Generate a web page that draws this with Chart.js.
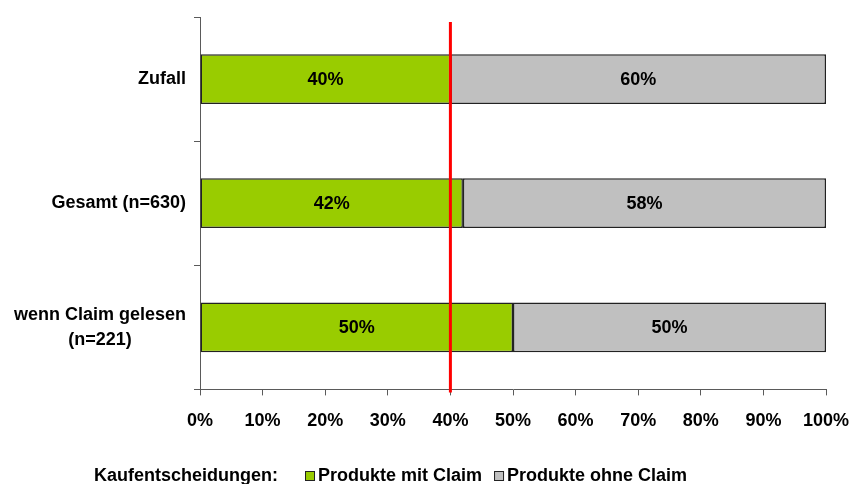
<!DOCTYPE html>
<html>
<head>
<meta charset="utf-8">
<script src="https://cdn.jsdelivr.net/npm/chart.js@4.4.0/dist/chart.umd.min.js"></script>
<style>
  html, body { margin: 0; padding: 0; background: #ffffff; }
  #wrap { width: 854px; height: 484px; }
</style>
</head>
<body>
<div id="wrap"><canvas id="chart" width="854" height="484"></canvas></div>
<script>
// Categories (multi-line labels as arrays)
const categories = [['Zufall'], ['Gesamt (n=630)'], ['wenn Claim gelesen', '(n=221)']];
// Share of purchase decisions, in percent
const seriesNames = ['Produkte mit Claim', 'Produkte ohne Claim'];
const mitClaim = [40, 42, 50];
const ohneClaim = [60, 58, 50];
// Axis ticks (percent)
const xTicks = [0, 10, 20, 30, 40, 50, 60, 70, 80, 90, 100];
// Chance level marker
const referenceLine = 40;
const legendTitle = 'Kaufentscheidungen:';

const FONT = '"Liberation Sans", Arial, sans-serif';
const COLORS = ['#99CC00', '#C0C0C0'];
const EDGE = '#222222';
const AXIS = '#5a5a5a';

// Category labels left of the y axis: right-aligned block, lines centred within it
const categoryLabels = {
  id: 'categoryLabels',
  afterDraw(chart) {
    const { ctx } = chart;
    const y = chart.scales.y;
    const rightEdge = chart.chartArea.left - 14;
    const lineH = 25;
    ctx.save();
    ctx.font = 'bold 18px ' + FONT;
    ctx.fillStyle = '#000';
    ctx.textAlign = 'center';
    ctx.textBaseline = 'middle';
    categories.forEach((lines, i) => {
      const cy = y.getPixelForValue(i);
      const w = Math.max(...lines.map(l => ctx.measureText(l).width));
      const cx = rightEdge - w / 2;
      const y0 = cy - (lines.length - 1) * lineH / 2;
      lines.forEach((l, k) => ctx.fillText(l, cx, y0 + k * lineH));
    });
    ctx.restore();
  }
};

// Value labels centred inside each bar segment
const valueLabels = {
  id: 'valueLabels',
  afterDatasetsDraw(chart) {
    const { ctx } = chart;
    ctx.save();
    ctx.font = 'bold 18px ' + FONT;
    ctx.fillStyle = '#000';
    ctx.textAlign = 'center';
    ctx.textBaseline = 'middle';
    chart.data.datasets.forEach((ds, di) => {
      chart.getDatasetMeta(di).data.forEach((bar, i) => {
        const cx = (bar.x + bar.base) / 2;
        ctx.fillText(ds.data[i] + '%', cx, bar.y + 1);
      });
    });
    ctx.restore();
  }
};

// Vertical red marker at the chance level
const markerLine = {
  id: 'markerLine',
  afterDatasetsDraw(chart) {
    const { ctx, chartArea } = chart;
    const x = chart.scales.x.getPixelForValue(referenceLine);
    ctx.save();
    ctx.strokeStyle = '#FF0000';
    ctx.lineWidth = 3;
    ctx.beginPath();
    ctx.moveTo(x, chartArea.top + 5);
    ctx.lineTo(x, chartArea.bottom + 3);
    ctx.stroke();
    ctx.restore();
  }
};

// Single-row legend with a leading caption
const legendRow = {
  id: 'legendRow',
  afterDraw(chart) {
    const { ctx } = chart;
    const cy = 476;
    let x = 94;
    ctx.save();
    ctx.font = 'bold 18px ' + FONT;
    ctx.fillStyle = '#000';
    ctx.textAlign = 'left';
    ctx.textBaseline = 'middle';
    ctx.fillText(legendTitle, x, cy);
    x += ctx.measureText(legendTitle).width + 27;
    chart.data.datasets.forEach((ds) => {
      ctx.fillStyle = ds.backgroundColor;
      ctx.fillRect(x, cy - 5, 10, 10);
      ctx.strokeStyle = EDGE;
      ctx.lineWidth = 1;
      ctx.strokeRect(x + 0.5, cy - 5 + 0.5, 9, 9);
      x += 13;
      ctx.fillStyle = '#000';
      ctx.fillText(ds.label, x, cy);
      x += ctx.measureText(ds.label).width + 12;
    });
    ctx.restore();
  }
};

new Chart(document.getElementById('chart'), {
  type: 'bar',
  data: {
    labels: categories,
    datasets: [
      { label: seriesNames[0], data: mitClaim, backgroundColor: COLORS[0], borderColor: EDGE, borderWidth: 1.5, borderSkipped: false },
      { label: seriesNames[1], data: ohneClaim, backgroundColor: COLORS[1], borderColor: EDGE, borderWidth: 1.5, borderSkipped: false }
    ]
  },
  options: {
    indexAxis: 'y',
    responsive: false,
    animation: false,
    devicePixelRatio: 1,
    layout: { padding: { left: 0, right: 28, top: 17, bottom: 37 } },
    datasets: {
      bar: { categoryPercentage: 0.4, barPercentage: 1 }
    },
    scales: {
      x: {
        stacked: true,
        min: 0,
        max: 100,
        afterBuildTicks(scale) { scale.ticks = xTicks.map(v => ({ value: v })); },
        afterFit(scale) { scale.paddingLeft = 0; scale.paddingRight = 0; },
        ticks: {
          callback: v => v + '%',
          color: '#000',
          padding: 15,
          maxRotation: 0,
          autoSkip: false,
          font: { family: FONT, size: 18, weight: 'bold' }
        },
        grid: { drawOnChartArea: false, drawTicks: true, tickLength: 6, color: AXIS },
        border: { color: AXIS, width: 1 }
      },
      y: {
        stacked: true,
        afterFit(scale) { scale.width = 200; },
        ticks: { display: false },
        grid: { drawOnChartArea: false, drawTicks: true, tickLength: 6, color: AXIS, offset: true },
        border: { color: AXIS, width: 1 }
      }
    },
    plugins: {
      legend: { display: false },
      tooltip: { enabled: false }
    }
  },
  plugins: [valueLabels, markerLine, categoryLabels, legendRow]
});
</script>
</body>
</html>
